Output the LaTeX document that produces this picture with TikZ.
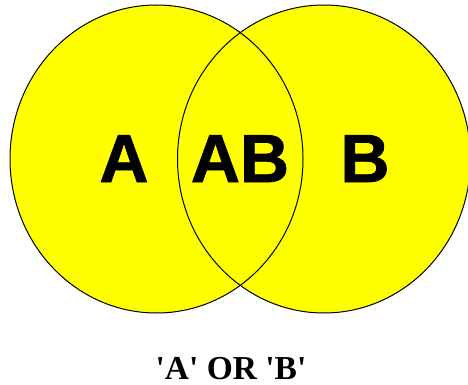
\documentclass[tikz,border=0pt]{standalone}
\usepackage{fontspec}
\setmainfont{Liberation Serif}
\newfontfamily\labfont[BoldFeatures={FakeBold=1.2}]{Liberation Sans}
\definecolor{vyellow}{RGB}{255,255,0}
\tikzset{
  setshape/.style={fill=vyellow},
  setline/.style={draw=black,line width=1pt},
  setlabel/.style={font=\labfont\bfseries\fontsize{68}{68}\selectfont,inner sep=0pt,anchor=base},
  caption/.style={font=\bfseries\fontsize{33.5}{34}\selectfont,inner sep=0pt,anchor=base}
}
\begin{document}
\begin{tikzpicture}[x=1pt,y=-1pt]
\useasboundingbox (0,0) rectangle (468,385);
\clip (0,0) rectangle (468,385);
\coordinate (ca) at (156.5,159);
\coordinate (cb) at (324,159);
\fill[setshape] (ca) ellipse [x radius=146.5, y radius=154];
\fill[setshape] (cb) ellipse [x radius=146.5, y radius=154];
\draw[setline] (ca) ellipse [x radius=146.5, y radius=154];
\draw[setline] (cb) ellipse [x radius=146.5, y radius=154];
\node[setlabel] (la) at (124,182) {A};
\node[setlabel] (lab) at (240,182) {AB};
\node[setlabel] (lb) at (365,182) {B};
\node[caption] (cap) at (231,379) {\textquotesingle A\textquotesingle{} OR \textquotesingle B\textquotesingle};
\end{tikzpicture}
\end{document}
